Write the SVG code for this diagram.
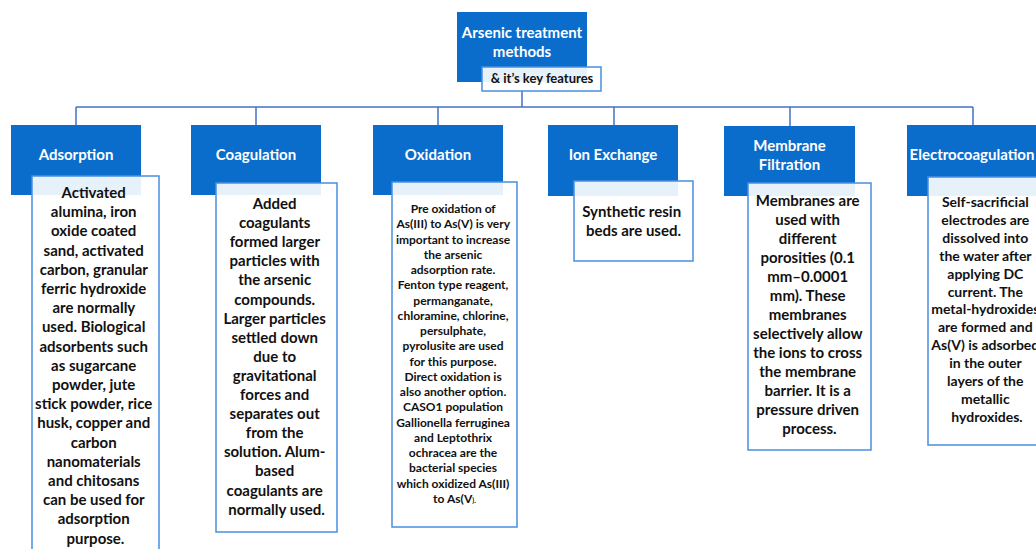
<svg xmlns="http://www.w3.org/2000/svg" width="1036" height="549" viewBox="0 0 1036 549">
<style>
.hdr{fill:#0A6DCC}
.box{fill:#ffffff;fill-opacity:0.9;stroke:#4A8FE0;stroke-width:1.5}
.ht{font-family:Lato,"Liberation Sans",sans-serif;font-weight:bold;font-size:15px;fill:#ffffff;text-anchor:middle}
.bt{font-family:Lato,"Liberation Sans",sans-serif;font-weight:bold;font-size:15px;fill:#111111;text-anchor:middle}
.sm{font-size:12px}
.md{font-size:14px}
.conn{stroke:#4472C4;stroke-width:1.5;fill:none}
</style>
<rect width="1036" height="549" fill="#ffffff"/>
<g id="connectors">
<path class="conn" d="M522 91V107M76 107H973M76 107V125M256 107V125M438 107V125M614 107V125M790 107V126M973 107V125"/>
</g>
<g id="root">
<rect class="hdr" x="457" y="12" width="130" height="70"/>
<text class="ht" x="522" y="38">Arsenic treatment</text>
<text class="ht" x="522" y="57">methods</text>
<rect class="box" x="482" y="67" width="119" height="24"/>
<text class="bt" x="542" y="83" style="font-size:13px">&amp; it’s key features</text>
</g>
<g id="adsorption">
<rect class="hdr" x="11" y="125" width="130" height="70"/>
<text class="ht" x="76" y="160">Adsorption</text>
<rect class="box" x="32" y="176" width="127" height="390"/>
<text class="bt" x="95.5" y="198">
<tspan x="95.5" dy="0">Activated</tspan>
<tspan x="95.5" dy="19.2">alumina, iron</tspan>
<tspan x="95.5" dy="19.2">oxide coated</tspan>
<tspan x="95.5" dy="19.2">sand, activated</tspan>
<tspan x="95.5" dy="19.2">carbon, granular</tspan>
<tspan x="95.5" dy="19.2">ferric hydroxide</tspan>
<tspan x="95.5" dy="19.2">are normally</tspan>
<tspan x="95.5" dy="19.2">used. Biological</tspan>
<tspan x="95.5" dy="19.2">adsorbents such</tspan>
<tspan x="95.5" dy="19.2">as sugarcane</tspan>
<tspan x="95.5" dy="19.2">powder, jute</tspan>
<tspan x="95.5" dy="19.2">stick powder, rice</tspan>
<tspan x="95.5" dy="19.2">husk, copper and</tspan>
<tspan x="95.5" dy="19.2">carbon</tspan>
<tspan x="95.5" dy="19.2">nanomaterials</tspan>
<tspan x="95.5" dy="19.2">and chitosans</tspan>
<tspan x="95.5" dy="19.2">can be used for</tspan>
<tspan x="95.5" dy="19.2">adsorption</tspan>
<tspan x="95.5" dy="19.2">purpose.</tspan>
</text>
</g>
<g id="coagulation">
<rect class="hdr" x="191" y="125" width="130" height="70"/>
<text class="ht" x="256" y="160">Coagulation</text>
<rect class="box" x="216" y="183" width="121" height="349"/>
<text class="bt" x="276.5" y="209">
<tspan x="276.5" dy="0">Added</tspan>
<tspan x="276.5" dy="19.1">coagulants</tspan>
<tspan x="276.5" dy="19.1">formed larger</tspan>
<tspan x="276.5" dy="19.1">particles with</tspan>
<tspan x="276.5" dy="19.1">the arsenic</tspan>
<tspan x="276.5" dy="19.1">compounds.</tspan>
<tspan x="276.5" dy="19.1">Larger particles</tspan>
<tspan x="276.5" dy="19.1">settled down</tspan>
<tspan x="276.5" dy="19.1">due to</tspan>
<tspan x="276.5" dy="19.1">gravitational</tspan>
<tspan x="276.5" dy="19.1">forces and</tspan>
<tspan x="276.5" dy="19.1">separates out</tspan>
<tspan x="276.5" dy="19.1">from the</tspan>
<tspan x="276.5" dy="19.1">solution. Alum-</tspan>
<tspan x="276.5" dy="19.1">based</tspan>
<tspan x="276.5" dy="19.1">coagulants are</tspan>
<tspan x="276.5" dy="19.1">normally used.</tspan>
</text>
</g>
<g id="oxidation">
<rect class="hdr" x="373" y="125" width="130" height="70"/>
<text class="ht" x="438" y="160">Oxidation</text>
<rect class="box" x="392" y="182" width="125" height="345"/>
<text class="bt sm" x="454.5" y="213">
<tspan x="454.5" dy="0">Pre oxidation of</tspan>
<tspan x="454.5" dy="15.26">As(III) to As(V) is very</tspan>
<tspan x="454.5" dy="15.26">important to increase</tspan>
<tspan x="454.5" dy="15.26">the arsenic</tspan>
<tspan x="454.5" dy="15.26">adsorption rate.</tspan>
<tspan x="454.5" dy="15.26">Fenton type reagent,</tspan>
<tspan x="454.5" dy="15.26">permanganate,</tspan>
<tspan x="454.5" dy="15.26">chloramine, chlorine,</tspan>
<tspan x="454.5" dy="15.26">persulphate,</tspan>
<tspan x="454.5" dy="15.26">pyrolusite are used</tspan>
<tspan x="454.5" dy="15.26">for this purpose.</tspan>
<tspan x="454.5" dy="15.26">Direct oxidation is</tspan>
<tspan x="454.5" dy="15.26">also another option.</tspan>
<tspan x="454.5" dy="15.26">CASO1 population</tspan>
<tspan x="454.5" dy="15.26">Gallionella ferruginea</tspan>
<tspan x="454.5" dy="15.26">and Leptothrix</tspan>
<tspan x="454.5" dy="15.26">ochracea are the</tspan>
<tspan x="454.5" dy="15.26">bacterial species</tspan>
<tspan x="454.5" dy="15.26">which oxidized As(III)</tspan>
<tspan x="454.5" dy="15.26">to As(V<tspan style="font-size:7px">).</tspan></tspan>
</text>
</g>
<g id="ion-exchange">
<rect class="hdr" x="548" y="125" width="130" height="71"/>
<text class="ht" x="613" y="160">Ion Exchange</text>
<rect class="box" x="574" y="181" width="119" height="80"/>
<text class="bt" x="633.5" y="217">
<tspan x="633.5" dy="0">Synthetic resin</tspan>
<tspan x="633.5" dy="19">beds are used.</tspan>
</text>
</g>
<g id="membrane-filtration">
<rect class="hdr" x="724" y="126" width="131" height="70"/>
<text class="ht" x="789.5" y="151">Membrane</text>
<text class="ht" x="789.5" y="170">Filtration</text>
<rect class="box" x="748" y="183" width="123" height="267"/>
<text class="bt" x="809.5" y="206">
<tspan x="809.5" dy="0">Membranes are</tspan>
<tspan x="809.5" dy="19">used with</tspan>
<tspan x="809.5" dy="19">different</tspan>
<tspan x="809.5" dy="19">porosities (0.1</tspan>
<tspan x="809.5" dy="19">mm–0.0001</tspan>
<tspan x="809.5" dy="19">mm). These</tspan>
<tspan x="809.5" dy="19">membranes</tspan>
<tspan x="809.5" dy="19">selectively allow</tspan>
<tspan x="809.5" dy="19">the ions to cross</tspan>
<tspan x="809.5" dy="19">the membrane</tspan>
<tspan x="809.5" dy="19">barrier. It is a</tspan>
<tspan x="809.5" dy="19">pressure driven</tspan>
<tspan x="809.5" dy="19">process.</tspan>
</text>
</g>
<g id="electrocoagulation">
<rect class="hdr" x="907" y="125" width="132" height="71"/>
<text class="ht" x="972" y="160">Electrocoagulation</text>
<rect class="box" x="928" y="177" width="118" height="268"/>
<text class="bt md" x="987" y="207">
<tspan x="987" dy="0">Self-sacrificial</tspan>
<tspan x="987" dy="17.9">electrodes are</tspan>
<tspan x="987" dy="17.9">dissolved into</tspan>
<tspan x="987" dy="17.9">the water after</tspan>
<tspan x="987" dy="17.9">applying DC</tspan>
<tspan x="987" dy="17.9">current. The</tspan>
<tspan x="987" dy="17.9">metal-hydroxides</tspan>
<tspan x="987" dy="17.9">are formed and</tspan>
<tspan x="987" dy="17.9">As(V) is adsorbed</tspan>
<tspan x="987" dy="17.9">in the outer</tspan>
<tspan x="987" dy="17.9">layers of the</tspan>
<tspan x="987" dy="17.9">metallic</tspan>
<tspan x="987" dy="17.9">hydroxides.</tspan>
</text>
</g>
</svg>
